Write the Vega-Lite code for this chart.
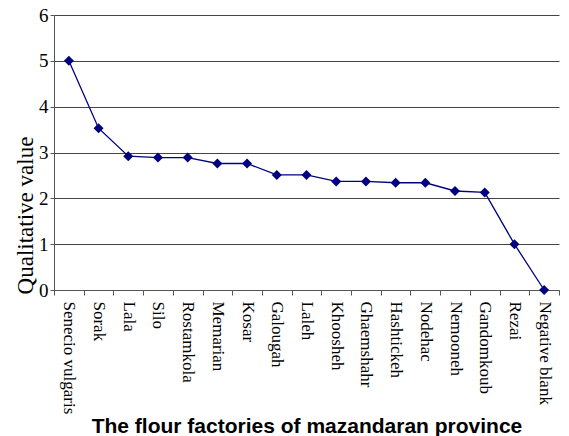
{
  "$schema": "https://vega.github.io/schema/vega-lite/v6.json",
  "width": 505,
  "height": 275,
  "autosize": {"type": "none"},
  "padding": {"left": 54, "top": 15, "right": 10, "bottom": 146},
  "background": "white",
  "config": {"view": {"stroke": null}},
  "data": {
    "values": [
      {"factory": "Senecio vulgaris", "value": 5.0},
      {"factory": "Sorak", "value": 3.53},
      {"factory": "Lala", "value": 2.92},
      {"factory": "Silo", "value": 2.89},
      {"factory": "Rostamkola", "value": 2.89},
      {"factory": "Memarian", "value": 2.76},
      {"factory": "Kosar", "value": 2.76},
      {"factory": "Galougah", "value": 2.51},
      {"factory": "Laleh", "value": 2.51},
      {"factory": "Khoosheh", "value": 2.37},
      {"factory": "Ghaemshahr", "value": 2.37},
      {"factory": "Hashtickeh", "value": 2.34},
      {"factory": "Nodehac", "value": 2.34},
      {"factory": "Nemooneh", "value": 2.16},
      {"factory": "Gandomkoub", "value": 2.13},
      {"factory": "Rezai", "value": 1.0},
      {"factory": "Negative blank", "value": 0.0}
    ]
  },
  "encoding": {
    "x": {
      "field": "factory",
      "type": "nominal",
      "sort": null,
      "scale": {"type": "band", "paddingInner": 0, "paddingOuter": 0},
      "axis": {
        "title": "The flour factories of mazandaran province",
        "titleFont": "Liberation Sans",
        "titleFontSize": 21,
        "titleFontWeight": "bold",
        "titleColor": "black",
        "titlePadding": 2,
        "labelAngle": 90,
        "labelFont": "'Liberation Serif', 'Times New Roman', serif",
        "labelFontSize": 17,
        "labelColor": "black",
        "labelPadding": 6,
        "labelOverlap": false,
        "tickBand": "extent",
        "tickSize": 5,
        "tickColor": "#555",
        "domainColor": "#555",
        "grid": false
      }
    },
    "y": {
      "field": "value",
      "type": "quantitative",
      "scale": {"domain": [0, 6], "nice": false},
      "axis": {
        "title": "Qualitative value",
        "titleFont": "'Liberation Serif', 'Times New Roman', serif",
        "titleFontSize": 23,
        "titleFontWeight": "normal",
        "titleColor": "black",
        "titleX": -29,
        "titleY": 200,
        "titleAlign": "center",
        "titleBaseline": "middle",
        "titleAngle": -90,
        "labelFont": "'Liberation Serif', 'Times New Roman', serif",
        "labelFontSize": 19,
        "labelColor": "black",
        "labelPadding": 2,
        "labelOverlap": false,
        "values": [0, 1, 2, 3, 4, 5, 6],
        "tickSize": 4,
        "tickColor": "#555",
        "domainColor": "#555",
        "grid": true,
        "gridColor": "#444",
        "gridOpacity": 1,
        "gridWidth": 1
      }
    }
  },
  "layer": [
    {"mark": {"type": "line", "color": "#000080", "strokeWidth": 1.3}},
    {"mark": {"type": "point", "shape": "diamond", "filled": true, "color": "#000080", "opacity": 1, "size": 100}}
  ]
}
